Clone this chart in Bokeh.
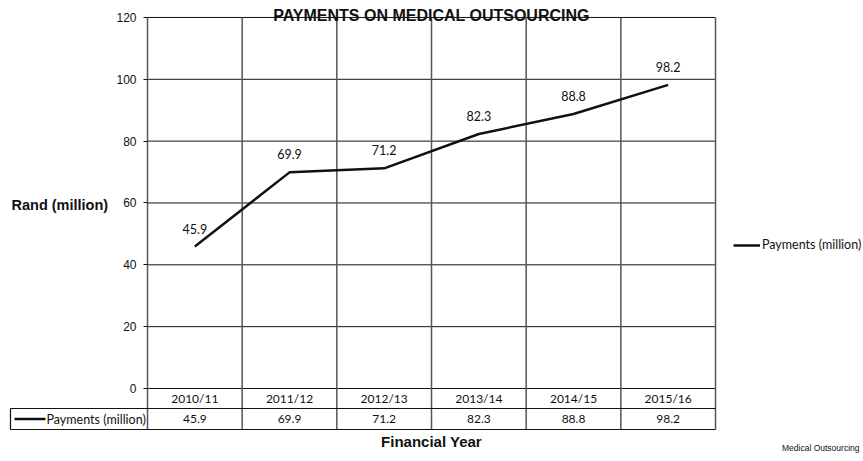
from bokeh.plotting import figure
from bokeh.models import Range1d, LinearAxis, FixedTicker, Legend, LegendItem
from bokeh.core.properties import value
from bokeh.embed import file_html
from bokeh.resources import INLINE

# ---- data ----
years = ["2010/11", "2011/12", "2012/13", "2013/14", "2014/15", "2015/16"]
payments = [45.9, 69.9, 71.2, 82.3, 88.8, 98.2]
series_name = "Payments (million)"
y_ticks = [0, 20, 40, 60, 80, 100, 120]
title_text = "PAYMENTS ON MEDICAL OUTSOURCING"
x_title = "Financial Year"
y_title = "Rand (million)"
footer = "Medical Outsourcing"

# ---- layout (canvas pixels) ----
W, H = 863, 461
PX_X = 94.67          # pixels per category column
X0 = 147              # canvas x of left edge of first column
PX_Y = 3.092          # pixels per unit
Y0 = H - 388          # canvas pixels from bottom to value 0

def vx(px):
    return (px - X0) / PX_X

def vy(py):
    return (388 - py) / PX_Y

p = figure(width=W, height=H, output_backend="svg", toolbar_location=None,
           x_range=Range1d(-X0 / PX_X, (W - X0) / PX_X),
           y_range=Range1d(-Y0 / PX_Y, (H - Y0) / PX_Y),
           x_axis_location=None, y_axis_location=None, title=None,
           min_border=0)
p.outline_line_color = None
p.grid.visible = False
p.background_fill_color = "white"

n = len(years)
xs = [i + 0.5 for i in range(n)]
ymax = y_ticks[-1]
row1_bot = vy(408)
row2_bot = vy(429)
cell_left = vx(10)

# horizontal grid lines
p.segment(x0=[0] * len(y_ticks), x1=[n] * len(y_ticks), y0=y_ticks, y1=y_ticks,
          line_color="#111111", line_width=1)
# vertical column lines through plot and table
p.segment(x0=list(range(n + 1)), x1=list(range(n + 1)),
          y0=[ymax] * (n + 1), y1=[row2_bot] * (n + 1),
          line_color="#555555", line_width=1.5)
# table horizontal lines
p.segment(x0=[cell_left, cell_left], x1=[n, n], y0=[row1_bot, row2_bot], y1=[row1_bot, row2_bot],
          line_color="#111111", line_width=1.2)
p.segment(x0=[cell_left], x1=[cell_left], y0=[row1_bot], y1=[row2_bot],
          line_color="#111111", line_width=1.2)

# y axis
yax = LinearAxis(fixed_location=0, ticker=FixedTicker(ticks=y_ticks), bounds=(0, ymax))
yax.axis_line_color = None
yax.major_tick_out = 4
yax.major_tick_in = 0
yax.minor_tick_out = 0
yax.minor_tick_in = 0
yax.major_tick_line_color = "#111111"
yax.major_label_standoff = 7
yax.major_label_text_font = "Liberation Sans"
yax.major_label_text_font_size = "12px"
yax.major_label_text_color = "#111111"
p.add_layout(yax, "left")

# data line
line_r = p.line(xs, payments, line_color="#111111", line_width=2.5)

# data labels
p.text(xs, payments, text=[f"{v:.1f}" for v in payments], y_offset=-18,
       text_align="center", text_baseline="middle",
       text_font=value("Lato"), text_font_size="12.5px", text_color="#111111")

# table rows
row1_mid = (0 + row1_bot) / 2
row2_mid = (row1_bot + row2_bot) / 2
p.text(xs, [row1_mid] * n, text=years, text_align="center", text_baseline="middle",
       text_font=value("Lato"), text_font_size="12px", text_color="#111111")
p.text(xs, [row2_mid] * n, text=[f"{v:.1f}" for v in payments], text_align="center",
       text_baseline="middle", text_font=value("Lato"), text_font_size="12px",
       text_color="#111111")
p.segment(x0=[vx(14)], x1=[vx(45)], y0=[row2_mid], y1=[row2_mid],
          line_color="#111111", line_width=2.5)
p.text([vx(46)], [row2_mid], text=[series_name], text_align="left", text_baseline="middle",
       text_font=value("Lato"), text_font_size="12.5px", text_color="#111111")

# titles
p.text([n / 2], [vy(15)], text=[title_text], text_align="center", text_baseline="alphabetic",
       text_font=value("Liberation Sans"), text_font_style="bold", text_font_size="16px",
       text_color="#111111")
p.text([n / 2], [vy(441)], text=[x_title], text_align="center", text_baseline="middle",
       text_font=value("Liberation Sans"), text_font_style="bold", text_font_size="15px",
       text_color="#111111")
p.text([vx(11)], [vy(204)], text=[y_title], text_align="left", text_baseline="middle",
       text_font=value("Liberation Sans"), text_font_style="bold", text_font_size="14.5px",
       text_color="#111111")
p.text([vx(859)], [vy(447)], text=[footer], text_align="right", text_baseline="middle",
       text_font=value("Liberation Sans"), text_font_size="8.5px", text_color="#111111")

# legend
legend = Legend(items=[LegendItem(label=series_name, renderers=[line_r])],
                location=(733, 209), padding=0, margin=0, spacing=0,
                glyph_width=27, glyph_height=14, label_height=14, label_standoff=2,
                label_text_font="Lato", label_text_font_size="12.5px",
                label_text_color="#111111",
                background_fill_alpha=0, border_line_alpha=0)
p.add_layout(legend, "center")

open("out.html", "w").write(file_html(p, INLINE))
